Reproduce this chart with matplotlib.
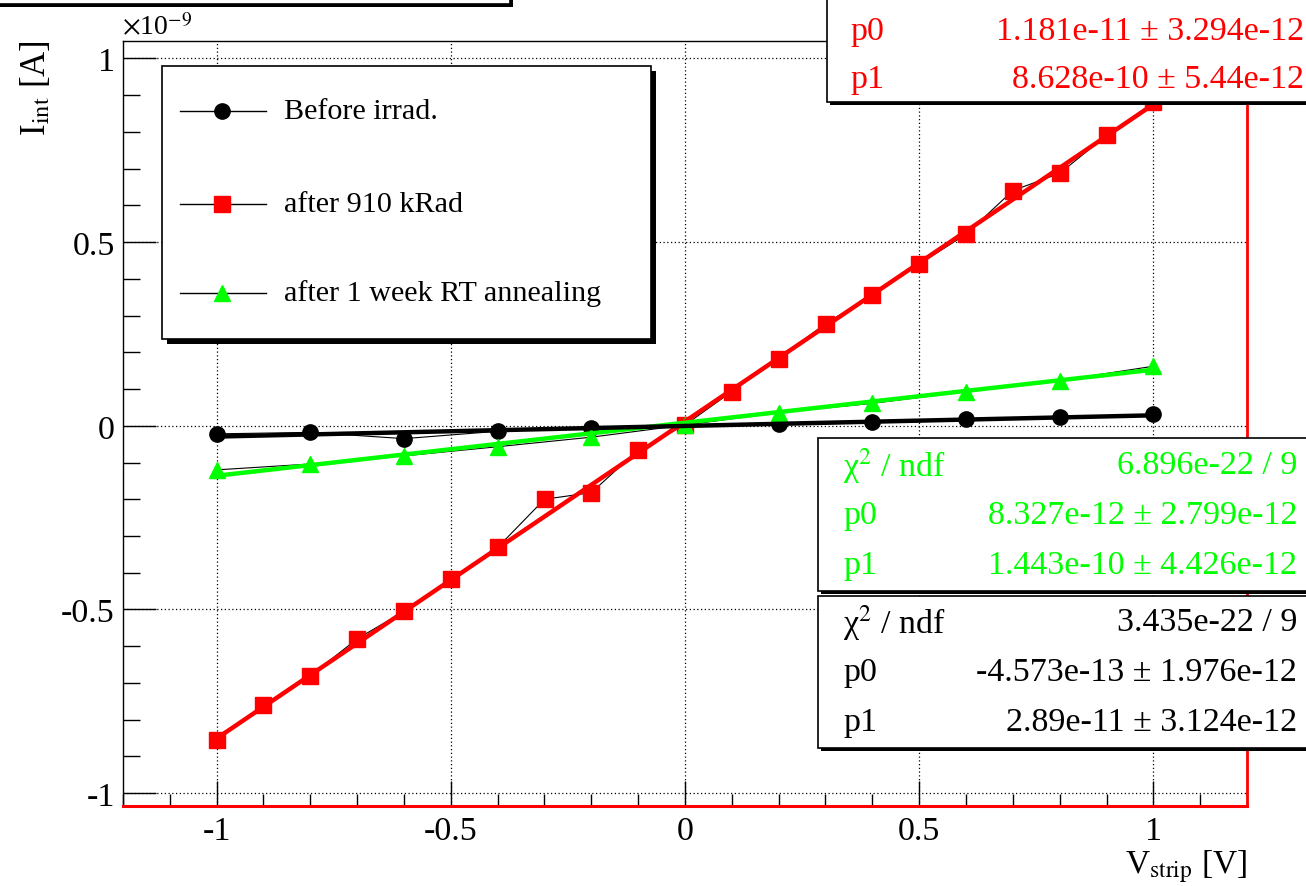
import matplotlib.pyplot as plt
import matplotlib.patches as mpatches
from matplotlib.lines import Line2D
from matplotlib.ticker import MultipleLocator, FuncFormatter

plt.rcParams['font.family'] = ['Liberation Serif', 'DejaVu Serif']
plt.rcParams['mathtext.fontset'] = 'stix'
plt.rcParams['axes.unicode_minus'] = False

W, H = 1306, 887

# strip voltage [V] and integrated current [1e-9 A]
v_before = [-1.0, -0.8, -0.6, -0.4, -0.2, 0.0, 0.2, 0.4, 0.6, 0.8, 1.0]
i_before = [-0.022, -0.018, -0.035, -0.015, -0.005, 0.002, 0.004, 0.011, 0.019, 0.024, 0.031]

v_irr = [-1.0, -0.9, -0.8, -0.7, -0.6, -0.5, -0.4, -0.3, -0.2, -0.1, 0.0,
         0.1, 0.2, 0.3, 0.4, 0.5, 0.6, 0.7, 0.8, 0.9, 1.0]
i_irr = [-0.855, -0.760, -0.680, -0.580, -0.505, -0.417, -0.331, -0.200, -0.182, -0.066, 0.002,
         0.093, 0.183, 0.278, 0.355, 0.440, 0.521, 0.640, 0.687, 0.790, 0.880]

v_ann = [-1.0, -0.8, -0.6, -0.4, -0.2, 0.0, 0.2, 0.4, 0.6, 0.8, 1.0]
i_ann = [-0.120, -0.104, -0.082, -0.057, -0.031, 0.002, 0.036, 0.061, 0.093, 0.123, 0.162]

# linear fit results  (p0, p1, err p0, err p1)
fit_irr = (1.181e-11, 8.628e-10, 3.294e-12, 5.44e-12)
fit_ann = (8.327e-12, 1.443e-10, 2.799e-12, 4.426e-12)
fit_before = (-4.573e-13, 2.89e-11, 1.976e-12, 3.124e-12)
chi2_ann = (6.896e-22, 9)
chi2_before = (3.435e-22, 9)

labels = ['Before irrad.', 'after 910 kRad', 'after 1 week RT annealing']
RED, GREEN = '#ff0000', '#00ff00'


def fx(x):
    return x / W


def fy(y):
    return 1 - y / H


fig = plt.figure(figsize=(W / 100, H / 100), dpi=100)
ax = fig.add_axes([fx(123), fy(806.7), (1247 - 123) / W, (806.7 - 41.7) / H])
ax.set_xlim(-1.2, 1.2)
ax.set_ylim(-1.034, 1.048)

# data graphs: thin black line + coloured markers
for v, i, c, m in [(v_before, i_before, 'black', 'o'),
                   (v_irr, i_irr, RED, 's'),
                   (v_ann, i_ann, GREEN, '^')]:
    ax.plot(v, i, color='black', lw=0.8, zorder=3)
    ax.plot(v, i, ls='none', marker=m, ms=11, mfc=c, mec=c, zorder=4)

# fitted lines
for fit, c in [(fit_irr, RED), (fit_ann, GREEN), (fit_before, 'black')]:
    p0, p1 = fit[0] / 1e-9, fit[1] / 1e-9
    ax.plot([-1, 1], [p0 - p1, p0 + p1], color=c, lw=3.2, zorder=5)

# ROOT-like axes
ax.xaxis.set_major_locator(MultipleLocator(0.5))
ax.xaxis.set_minor_locator(MultipleLocator(0.1))
ax.yaxis.set_major_locator(MultipleLocator(0.5))
ax.yaxis.set_minor_locator(MultipleLocator(0.1))
fmt = FuncFormatter(lambda v, pos: '%g' % round(v, 3))
ax.xaxis.set_major_formatter(fmt)
ax.yaxis.set_major_formatter(fmt)
ax.tick_params(axis='x', which='major', direction='in', length=18, width=1,
               labelsize=24.5, pad=7)
ax.tick_params(axis='x', which='minor', direction='in', length=8.6, width=1)
ax.tick_params(axis='y', which='major', direction='in', length=24, width=1,
               labelsize=24.5, pad=6)
ax.tick_params(axis='y', which='minor', direction='in', length=12, width=1)
ax.grid(True, which='major', color='black', ls=(0, (1, 2)), lw=0.9)
ax.set_axisbelow(True)
ax.spines['top'].set_linewidth(1)
ax.spines['left'].set_linewidth(1)
ax.spines['right'].set_color(RED)
ax.spines['right'].set_linewidth(2)
ax.spines['bottom'].set_color(RED)
ax.spines['bottom'].set_linewidth(2.2)

fig.text(fx(122), fy(35), r'$\times$10$^{-9}$', fontsize=20, ha='left', va='baseline')
fig.text(fx(1247), fy(874), r'V$_{\mathrm{strip}}$ [V]', fontsize=24,
         ha='right', va='baseline')
fig.text(fx(45), fy(40), r'I$_{\mathrm{int}}$ [A]', fontsize=25, rotation=90,
         rotation_mode='anchor', ha='right', va='baseline')


def box(x0, y0, x1, y1, shadow=5, z=6):
    sh = mpatches.Rectangle((fx(x0 + shadow), fy(y1 + shadow)), (x1 - x0) / W,
                            (y1 - y0) / H, transform=fig.transFigure,
                            facecolor='black', edgecolor='black', lw=0, zorder=z)
    fr = mpatches.Rectangle((fx(x0), fy(y1)), (x1 - x0) / W, (y1 - y0) / H,
                            transform=fig.transFigure, facecolor='white',
                            edgecolor='black', lw=1.2, zorder=z + 0.1)
    fig.add_artist(sh)
    fig.add_artist(fr)


# title pave, mostly above the canvas
box(-20, -100, 510, 5, shadow=3)

# legend
box(162, 67, 651, 340, shadow=5)
leg_rows = [(112, 'black', 'o'), (205, RED, 's'), (294, GREEN, '^')]
for (yy, c, m), lab in zip(leg_rows, labels):
    fig.add_artist(Line2D([fx(180), fx(266)], [fy(yy), fy(yy)], transform=fig.transFigure,
                          color='black', lw=1, zorder=7))
    fig.add_artist(Line2D([fx(222)], [fy(yy)], transform=fig.transFigure, ls='none',
                          marker=m, ms=11, mfc=c, mec=c, zorder=7.1))
    fig.text(fx(284), fy(yy), lab, fontsize=21.7, ha='left', va='center', zorder=7)


def stat_rows(x_lab, x_val, rows, color, first_y, dy=50):
    for k, (lab, val) in enumerate(rows):
        yy = first_y + k * dy
        fig.text(fx(x_lab), fy(yy), lab, fontsize=24.5, color=color,
                 ha='left', va='center', zorder=7)
        fig.text(fx(x_val), fy(yy), val, fontsize=24.5, color=color,
                 ha='right', va='center', zorder=7)


def pm(val, err):
    return '%.4g \u00b1 %.4g' % (val, err)


CHI = '\u03c7$^2$ / ndf'

# stats boxes
box(827, -100, 1340, 103, shadow=3)
stat_rows(850, 1304, [('p0', pm(fit_irr[0], fit_irr[2])),
                      ('p1', pm(fit_irr[1], fit_irr[3]))], RED, 32, dy=48)

box(818, 439, 1340, 592, shadow=3)
stat_rows(843, 1297, [(CHI, '%.4g / %d' % chi2_ann),
                      ('p0', pm(fit_ann[0], fit_ann[2])),
                      ('p1', pm(fit_ann[1], fit_ann[3]))], GREEN, 466)

box(818, 597, 1340, 749, shadow=3)
stat_rows(843, 1297, [(CHI, '%.4g / %d' % chi2_before),
                      ('p0', pm(fit_before[0], fit_before[2])),
                      ('p1', pm(fit_before[1], fit_before[3]))], 'black', 623)

fig.savefig('out.png', dpi=100, facecolor='white')
